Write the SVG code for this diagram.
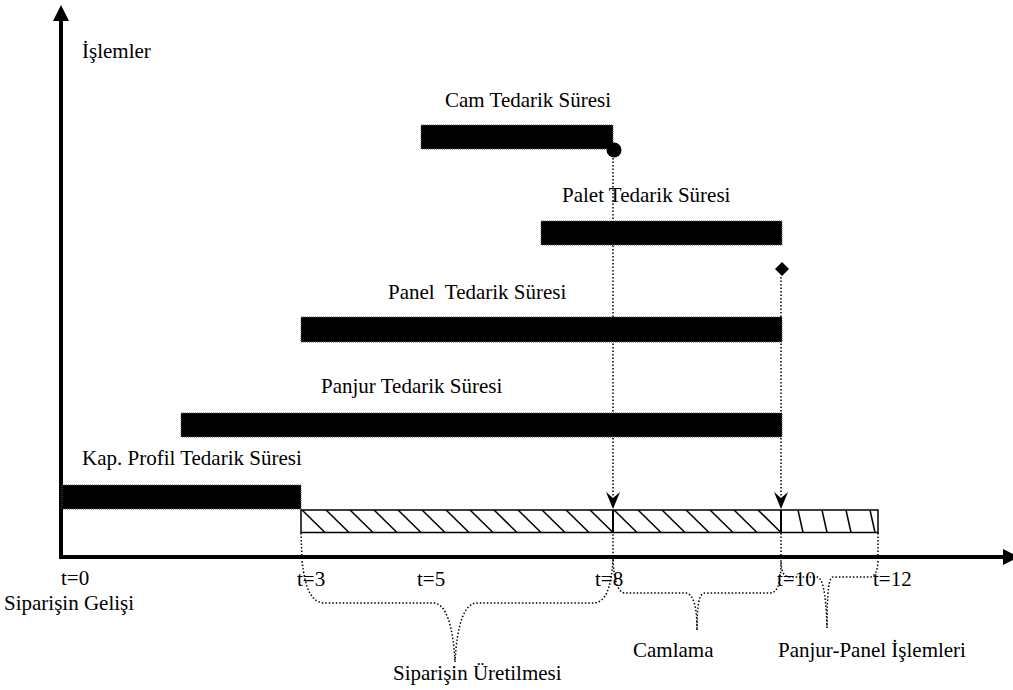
<svg xmlns="http://www.w3.org/2000/svg" width="1013" height="690" viewBox="0 0 1013 690">
<style>
text{font-family:"Liberation Serif","Times New Roman",serif;font-size:21px;fill:#000;white-space:pre}
.bar{fill:#000;stroke:#555;stroke-width:1;stroke-dasharray:1,1}
.dot{fill:none;stroke:#000;stroke-width:1.5;stroke-dasharray:1.5,2}
.hatch{stroke:#000;stroke-width:1.5;fill:none}
.axis{stroke:#000;stroke-width:4;fill:none}
</style>
<rect width="1013" height="690" fill="#fff"/>
<g id="axes">
<line class="axis" x1="61" y1="18" x2="61" y2="557"/>
<polygon points="61,5 53,21 69,21" fill="#000"/>
<line class="axis" x1="59" y1="557" x2="1004" y2="557"/>
<polygon points="1019,557 1003,549 1003,565" fill="#000"/>
<text x="82" y="58">İşlemler</text>
</g>
<g id="cam">
<rect class="bar" x="421" y="125" width="192" height="24"/>
<circle cx="614" cy="150" r="7.5" fill="#000"/>
<text x="445" y="106.5">Cam Tedarik Süresi</text>
</g>
<g id="palet">
<rect class="bar" x="541" y="221" width="241" height="24"/>
<polygon points="782,262 789,269 782,276 775,269" fill="#000"/>
<text x="562" y="201.5">Palet Tedarik Süresi</text>
</g>
<g id="panel">
<rect class="bar" x="301" y="317" width="481" height="25"/>
<text x="388" y="299">Panel  Tedarik Süresi</text>
</g>
<g id="panjur">
<rect class="bar" x="181" y="413" width="601" height="24"/>
<text x="321" y="393">Panjur Tedarik Süresi</text>
</g>
<g id="kap">
<rect class="bar" x="62" y="485" width="239" height="24"/>
<text x="82" y="465">Kap. Profil Tedarik Süresi</text>
</g>
<g id="production">
<rect x="301" y="510" width="577" height="22.5" fill="#fff" stroke="#000" stroke-width="1.5"/>
<path class="hatch" d="M302,510L325,532.5M326,510L349,532.5M350,510L373,532.5M374,510L397,532.5M398,510L421,532.5M422,510L445,532.5M446,510L469,532.5M470,510L493,532.5M494,510L517,532.5M518,510L541,532.5M542,510L565,532.5M566,510L589,532.5M590,510L613,532.5"/>
<path class="hatch" d="M614,510L637,532.5M638,510L661,532.5M662,510L685,532.5M686,510L709,532.5M710,510L733,532.5M734,510L757,532.5M758,510L781,532.5"/>
<path class="hatch" d="M798,510L803,532.5M822,510L827,532.5M846,510L851,532.5M870,510L875,532.5"/>
<line x1="613" y1="510" x2="613" y2="532.5" stroke="#000" stroke-width="2"/>
<line x1="781" y1="510" x2="781" y2="532.5" stroke="#000" stroke-width="2"/>
</g>
<g id="time-labels">
<text x="61" y="585">t=0</text>
<text x="4" y="609.5">Siparişin Gelişi</text>
<text x="297" y="586">t=3</text>
<text x="417" y="586">t=5</text>
<text x="595" y="586">t=8</text>
<text x="777" y="586">t=10</text>
<text x="873" y="586">t=12</text>
</g>
<g id="phase-labels">
<text x="393" y="680">Siparişin Üretilmesi</text>
<text x="633" y="657">Camlama</text>
<text x="778" y="657">Panjur-Panel İşlemleri</text>
</g>
<g id="connectors">
<line class="dot" x1="613" y1="158" x2="613" y2="496"/>
<path d="M613,509 L606,492 L613,498 L620,492 Z" fill="#000"/>
<line class="dot" x1="781" y1="277" x2="781" y2="496"/>
<path d="M781,509 L774,492 L781,498 L788,492 Z" fill="#000"/>
<path class="dot" d="M301,533 L302,560 C305,590 312,603 325,603 L433,603 C446,603 453,625 455,662"/>
<path class="dot" d="M455,662 C457,625 464,603 477,603 L593,603 C605,603 611,590 613,560 L613,533"/>
<path class="dot" d="M613,560 C614,580 618,593 625,593 L685,593 C693,593 697,605 697,630"/>
<path class="dot" d="M697,630 C697,605 699,593 705,593 L770,593 C777,593 781,585 781,560 L781,533"/>
<path class="dot" d="M878,533 L878,560 C878,570 875,577 870,577 L833,577 C829,577 827,590 827,628"/>
<path class="dot" d="M827,628 C826,590 822,577 817,577 L790,577 C784,577 781,572 781,560"/>
</g>
</svg>
